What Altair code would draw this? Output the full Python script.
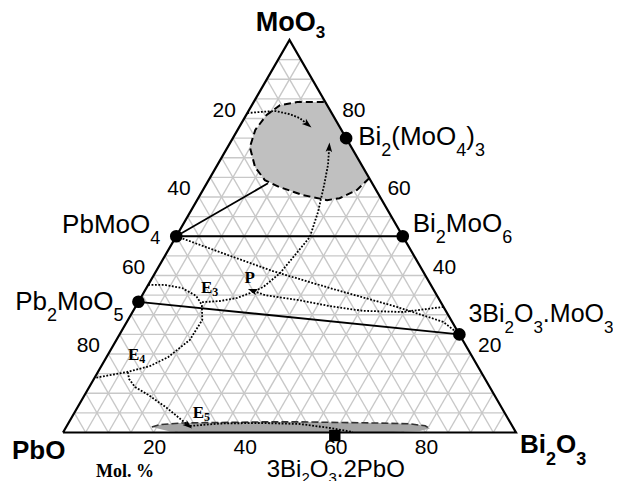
import math
import altair as alt
import pandas as pd

# ---------------- geometry of the drawing (pixels per composition unit) ----
PX_X = 4.53      # px per 1 % along the base
PX_Y = 3.925     # px per 1 % MoO3 (height)
W, H = 605, 473
BASE_LEFT = 55.0
BASE_Y = 424.5
X_DOMAIN = [-BASE_LEFT / PX_X, (W - BASE_LEFT) / PX_X]
Y_DOMAIN = [-(H - BASE_Y) / PX_Y, BASE_Y / PX_Y]

# ---------------- data: compositions as (Bi2O3 %, MoO3 %) ------------------
grid_levels = [5, 10, 15, 20, 25, 30, 35, 40, 45, 50, 55, 60, 65, 70, 75, 80, 85, 90, 95]
tick_values = [20, 40, 60, 80]

compound_names = ["PbMoO4", "Pb2MoO5", "Bi2MoO6", "3Bi2O3.MoO3", "Bi2(MoO4)3"]
compound_bi2o3 = [0, 0, 50, 75, 25]
compound_moo3 = [50, 33.3, 50, 25, 75]

side_bi2o3 = [60]   # 3Bi2O3.2PbO
side_moo3 = [0]

tie_bi2o3 = [[0, 50], [0, 75], [0, 13.5]]
tie_moo3 = [[50, 50], [33.3, 25], [50, 63.5]]

blob_bi2o3 = [15.8, 35.2, 34.0, 31.2, 28.7, 22.7, 16.6, 12.4, 8.6, 4.9, 3.9, 4.5, 6.2, 9.6, 15.8]
blob_moo3 = [84.2, 64.8, 61.8, 59.7, 59.2, 60.5, 62.5, 64.3, 67.6, 72.7, 77.1, 80.9, 83.4, 84.2, 84.2]

ell_bi2o3 = [18.9, 20.4, 24.6, 33.4, 42.2, 51.0, 59.9, 68.8, 75.5, 79.1, 80.5, 78.6, 70.0, 52.3, 34.7, 23.5, 18.9]
ell_moo3 = [1.4, 2.0, 2.4, 2.55, 2.7, 2.7, 2.55, 2.4, 2.2, 1.7, 1.0, 0.4, 0.0, 0.0, 0.0, 0.25, 1.4]

curve_F_bi = [0, 3.1, 6.0, 9.5, 12.2, 14.6]
curve_F_mo = [81.4, 81.7, 81.9, 81.1, 80.1, 78.6]
curve_A_bi = [14.1, 17.9, 21.3, 23.5, 25.7, 27.6, 28.6, 29.6, 28.2, 26.1, 24.4, 22.5]
curve_A_mo = [33.2, 33.5, 34.3, 35.5, 37.1, 40.6, 45.2, 49.8, 56.2, 63.1, 68.2, 72.5]
curve_B_bi = [68.0, 59.7, 50.7, 42.8, 34.8, 27.1, 23.9]
curve_B_mo = [32.0, 30.7, 31.0, 32.2, 33.8, 35.0, 36.1]
curve_C_bi = [0, 14.4, 25.8, 40.5, 57.7, 69.8, 75]
curve_C_mo = [50, 45.0, 41.1, 36.8, 32.0, 28.2, 25]
curve_D_bi = [0, 3.7, 7.9, 12.0, 14.4, 16.4, 16.2, 13.6, 10.7, 6.4, 0]
curve_D_mo = [37.6, 37.6, 36.8, 34.8, 32.5, 28.7, 23.6, 19.2, 16.9, 15.4, 13.9]
curve_E_bi = [6.6, 7.8, 10.1, 14.0, 19.9, 26.6]
curve_E_mo = [15.4, 13.6, 11.6, 9.6, 6.2, 1.9]
curve_G_bi = [27.2, 33.5, 42.3, 51.2, 58.4, 63.9]
curve_G_mo = [1.66, 2.29, 2.42, 2.17, 1.15, 0.13]

dotted_curves = {
    "F": (curve_F_bi, curve_F_mo, True),
    "A": (curve_A_bi, curve_A_mo, True),
    "B": (curve_B_bi, curve_B_mo, True),
    "C": (curve_C_bi, curve_C_mo, False),
    "D": (curve_D_bi, curve_D_mo, False),
    "E": (curve_E_bi, curve_E_mo, True),
    "G": (curve_G_bi, curve_G_mo, False),
}

point_labels = ["E3", "P", "E4", "E5"]
point_label_bi2o3 = [12.7, 21.0, 5.1, 26.8]
point_label_moo3 = [35.5, 38.1, 18.5, 3.7]


def cart(b, m):
    return b + m / 2.0, m


# ---------------- build tables ----------------
grid_rows = []
gid = 0
for k in grid_levels:
    for seg in [((0, k), (100 - k, k)), ((k, 0), (k, 100 - k)), ((100 - k, 0), (0, 100 - k))]:
        for i, (bb, mm) in enumerate(seg):
            x, y = cart(bb, mm)
            grid_rows.append({"g": gid, "i": i, "x": x, "y": y})
        gid += 1
grid_df = pd.DataFrame(grid_rows)

outline_pts = [(0, 0), (100, 0), (0, 100), (0, 0)]
outline_df = pd.DataFrame([{"i": i, "x": cart(*p)[0], "y": cart(*p)[1]} for i, p in enumerate(outline_pts)])

tie_rows = []
for g, (bs, ms) in enumerate(zip(tie_bi2o3, tie_moo3)):
    for i, (bb, mm) in enumerate(zip(bs, ms)):
        x, y = cart(bb, mm)
        tie_rows.append({"g": g, "i": i, "x": x, "y": y})
tie_df = pd.DataFrame(tie_rows)


def poly_df(bs, ms):
    rows = []
    for i, (bb, mm) in enumerate(zip(bs, ms)):
        x, y = cart(bb, mm)
        rows.append({"i": i, "x": x, "y": y})
    return pd.DataFrame(rows)


blob_df = poly_df(blob_bi2o3, blob_moo3)
blob_border_df = poly_df(blob_bi2o3[1:], blob_moo3[1:])
ell_df = poly_df(ell_bi2o3, ell_moo3)
ell_border_df = poly_df(ell_bi2o3[:11], ell_moo3[:11])

curve_rows = []
arrow_rows = []
for name, (bs, ms, arrow) in dotted_curves.items():
    for i, (bb, mm) in enumerate(zip(bs, ms)):
        x, y = cart(bb, mm)
        curve_rows.append({"g": name, "i": i, "x": x, "y": y})
    if arrow:
        x1, y1 = cart(bs[-2], ms[-2])
        x2, y2 = cart(bs[-1], ms[-1])
        sx = (x2 - x1) * PX_X
        sy = -(y2 - y1) * PX_Y
        ang = math.degrees(math.atan2(sx, -sy)) % 360
        arrow_rows.append({"x": x2, "y": y2, "ang": ang})
curve_df = pd.DataFrame(curve_rows)
arrow_df = pd.DataFrame(arrow_rows)

dots_df = pd.DataFrame([{"x": cart(b, m)[0], "y": cart(b, m)[1], "name": n}
                        for n, b, m in zip(compound_names, compound_bi2o3, compound_moo3)])
side_df = pd.DataFrame([{"x": cart(b, m)[0], "y": cart(b, m)[1]} for b, m in zip(side_bi2o3, side_moo3)])

# ---------------- text with subscripts ----------------
W_REG = {"B": .667, "i": .222, "O": .778, "M": .833, "o": .556, "P": .667, "b": .556,
         "(": .333, ")": .333, ".": .278, " ": .278}
W_BOLD = {"B": .722, "i": .278, "O": .778, "M": .833, "o": .611, "P": .667, "b": .611}
W_SERIF = {"E": .667, "P": .611, "M": .944, "o": .5, "l": .278, ".": .25, " ": .25, "%": 1.0}


def text_width(s, size, table):
    return sum(table.get(c, 0.556 if table is not W_SERIF else 0.5) for c in s) * size


def label_rows(parts, b, m, align, dx, dy, size, sub_size, drop, style):
    table = {"bold": W_BOLD, "reg": W_REG, "serif": W_SERIF}[style]
    widths = [text_width(t, sub_size if s else size, table) for t, s in parts]
    total = sum(widths)
    start = dx - (total if align == "right" else total / 2 if align == "center" else 0)
    ax, ay = cart(b, m)
    rows = []
    cum = 0.0
    for (t, s), w in zip(parts, widths):
        px = start + cum
        py = dy + (drop if s else 0)
        rows.append({"t": t, "x": ax + px / PX_X, "y": ay - py / PX_Y,
                     "size": sub_size if s else size, "style": style})
        cum += w
    return rows


text_rows = []
text_rows += label_rows([("MoO", 0), ("3", 1)], 0, 100, "center", 1, -9, 27, 17, 7, "bold")
text_rows += label_rows([("PbO", 0)], 0, 0, "left", -51, 26, 26, 18, 0, "bold")
text_rows += label_rows([("Bi", 0), ("2", 1), ("O", 0), ("3", 1)], 100, 0, "left", 4, 20, 26, 18, 12, "bold")
text_rows += label_rows([("PbMoO", 0), ("4", 1)], 0, 50, "right", -16, -3, 26, 18, 11, "reg")
text_rows += label_rows([("Pb", 0), ("2", 1), ("MoO", 0), ("5", 1)], 0, 33.3, "right", -15, 8, 26, 18, 11, "reg")
text_rows += label_rows([("Bi", 0), ("2", 1), ("MoO", 0), ("6", 1)], 50, 50, "left", 10, -4, 26, 18, 11, "reg")
text_rows += label_rows([("3Bi", 0), ("2", 1), ("O", 0), ("3", 1), (".MoO", 0), ("3", 1)], 75, 25, "left", 9, -12, 25, 17, 11, "reg")
text_rows += label_rows([("Bi", 0), ("2", 1), ("(MoO", 0), ("4", 1), (")", 0), ("3", 1)], 25, 75, "left", 12, 7, 26, 18, 11, "reg")
text_rows += label_rows([("3Bi", 0), ("2", 1), ("O", 0), ("3", 1), (".2PbO", 0)], 60, 0, "center", 1, 44, 24, 15, 6, "reg")
text_rows += label_rows([("Mol. %", 0)], 0, 0, "left", 33, 44, 18, 12, 0, "serif")
for lab, b, m in zip(point_labels, point_label_bi2o3, point_label_moo3):
    text_rows += label_rows([(lab[0], 0), (lab[1:], 1)], b, m, "left", 0, 0, 17, 12, 3, "serif")
text_df = pd.DataFrame(text_rows)

tick_rows = []
for t in tick_values:
    x, y = cart(0, 100 - t)      # left edge: PbO %
    tick_rows.append({"t": str(t), "x": x - 20 / PX_X, "y": y + 8 / PX_Y})
    x, y = cart(100 - t, t)      # right edge: MoO3 %
    tick_rows.append({"t": str(t), "x": x + 19 / PX_X, "y": y + 8 / PX_Y})
    x, y = cart(t, 0)            # base: Bi2O3 %
    tick_rows.append({"t": str(t), "x": x + 1 / PX_X, "y": y - 15 / PX_Y})
tick_df = pd.DataFrame(tick_rows)

# ---------------- chart ----------------
xs = alt.Scale(domain=X_DOMAIN, nice=False, zero=False)
ys = alt.Scale(domain=Y_DOMAIN, nice=False, zero=False)
X = alt.X("x:Q", scale=xs, axis=None)
Y = alt.Y("y:Q", scale=ys, axis=None)

grid = alt.Chart(grid_df).mark_line(color="#c8c8c8", strokeWidth=1.4).encode(
    x=X, y=Y, detail="g:N", order="i:Q")
blob = alt.Chart(blob_df).mark_line(fill="#c0c0c0", strokeOpacity=0, color="#c0c0c0").encode(
    x=X, y=Y, order="i:Q")
ell = alt.Chart(ell_df).mark_line(fill="#a5a5a5", strokeOpacity=0, color="#a5a5a5").encode(
    x=X, y=Y, order="i:Q")
blob_border = alt.Chart(blob_border_df).mark_line(color="black", strokeWidth=2, strokeDash=[7, 4]).encode(
    x=X, y=Y, order="i:Q")
ell_border = alt.Chart(ell_border_df).mark_line(color="#333333", strokeWidth=1.6, strokeDash=[7, 3]).encode(
    x=X, y=Y, order="i:Q")
outline = alt.Chart(outline_df).mark_line(color="black", strokeWidth=2.2).encode(
    x=X, y=Y, order="i:Q")
ties = alt.Chart(tie_df).mark_line(color="black", strokeWidth=1.8).encode(
    x=X, y=Y, detail="g:N", order="i:Q")
curves = alt.Chart(curve_df).mark_line(color="black", strokeWidth=1.8, strokeDash=[1.8, 1.6]).encode(
    x=X, y=Y, detail="g:N", order="i:Q")
arrows = alt.Chart(arrow_df).mark_point(
    shape="M0,-1L0.6,0.75L0,0.35L-0.6,0.75Z", filled=True, color="black", opacity=1, size=120
).encode(x=X, y=Y, angle=alt.Angle("ang:Q", scale=None))
dots = alt.Chart(dots_df).mark_circle(color="black", opacity=1, size=160).encode(x=X, y=Y)
side = alt.Chart(side_df).mark_square(color="black", opacity=1, size=130, yOffset=3).encode(x=X, y=Y)

def text_layer(style, font, weight):
    return alt.Chart(text_df[text_df["style"] == style]).mark_text(
        align="left", baseline="alphabetic", font=font, fontWeight=weight, color="black"
    ).encode(x=X, y=Y, text="t:N", size=alt.Size("size:Q", scale=None))

t_bold = text_layer("bold", "Liberation Sans", "bold")
t_reg = text_layer("reg", "Liberation Sans", "normal")
t_serif = text_layer("serif", "Liberation Serif", "bold")
ticks = alt.Chart(tick_df).mark_text(
    align="center", baseline="middle", font="Liberation Sans", fontSize=21, color="black"
).encode(x=X, y=Y, text="t:N")

chart = alt.layer(
    grid, blob, ell, outline, ties, blob_border, ell_border, curves, arrows, dots, side,
    t_bold, t_reg, t_serif, ticks
).properties(
    width=W, height=H, padding=0, autosize=alt.AutoSizeParams(type="none"), background="white"
).configure_view(stroke=None)

chart.save("out.html", embed_options={"renderer": "svg", "actions": False})
